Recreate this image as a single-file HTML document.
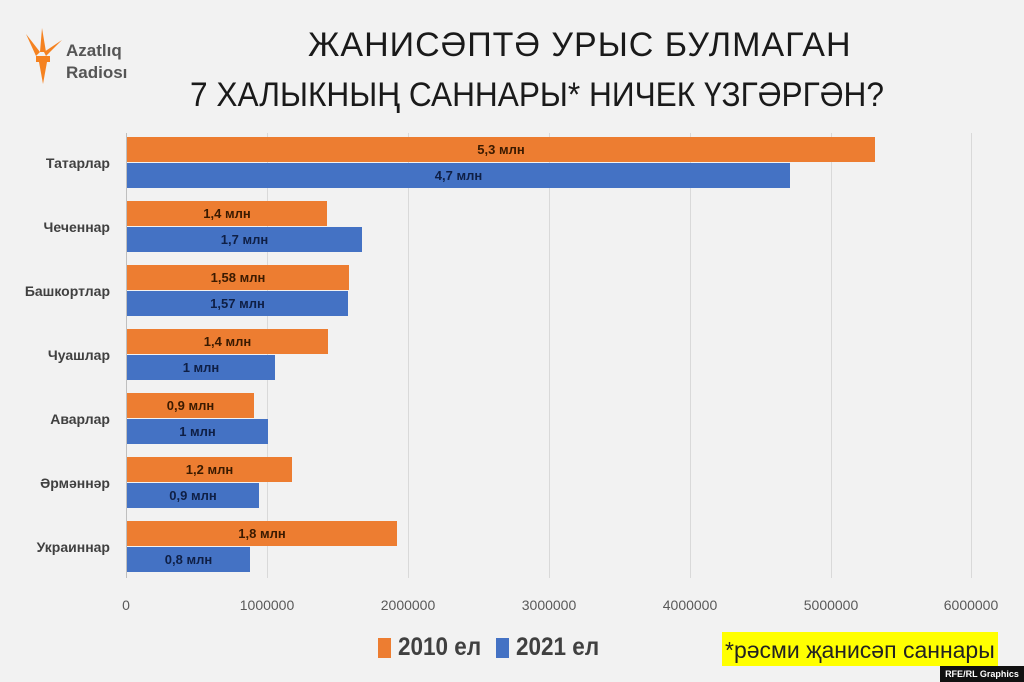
<!DOCTYPE html>
<html><head><meta charset="utf-8"><style>
body{margin:0;width:1024px;height:682px;background:#f2f2f2;font-family:"Liberation Sans","DejaVu Sans",sans-serif;position:relative;overflow:hidden}
.a{position:absolute}
.t{position:absolute;font-size:34px;color:#1a1a1a;white-space:nowrap}
.cat{position:absolute;right:914px;font-size:14px;font-weight:bold;color:#404040;white-space:nowrap}
.bar{position:absolute;left:127px;height:25px;font-size:13px;font-weight:bold;text-align:center;line-height:25px}
.o{background:#ed7d31;color:#3a1a00}
.b{background:#4472c4;color:#0f1f45}
.g{position:absolute;top:133px;height:445px;width:1px;background:#d9d9d9}
.tk{position:absolute;top:597px;font-size:14px;color:#595959;transform:translateX(-50%)}
.lg{position:absolute;top:633px;font-size:25px;font-weight:bold;color:#404040;transform:scaleX(0.9);transform-origin:left;white-space:nowrap}
</style></head><body>
<svg class="a" style="left:22px;top:26px" width="44" height="62" viewBox="0 0 44 62">
<path d="M4 8 L18 26 L14 30 Z" fill="#f58220"/><path d="M20 2 L24 26 L18 26 Z" fill="#f58220"/><path d="M40 14 L24 30 L22 26 Z" fill="#f58220"/>
<rect x="14" y="30" width="14" height="6" fill="#f58220"/><path d="M17 36 L25 36 L21 58 Z" fill="#f58220"/></svg>
<div class="a" style="left:66px;top:40px;font-size:17px;font-weight:bold;color:#555;line-height:22px">Azatlıq<br>Radiosı</div>
<div class="t" style="top:26px;left:308px;letter-spacing:1px">ЖАНИСӘПТӘ УРЫС БУЛМАГАН</div>
<div class="t" style="top:76px;left:190px;transform:scaleX(0.93);transform-origin:left">7 ХАЛЫКНЫҢ САННАРЫ* НИЧЕК ҮЗГӘРГӘН?</div>
<div class="g" style="left:267px"></div><div class="g" style="left:408px"></div><div class="g" style="left:549px"></div><div class="g" style="left:690px"></div><div class="g" style="left:831px"></div><div class="g" style="left:971px"></div>
<div class="a" style="left:126px;top:133px;width:1px;height:445px;background:#bfbfbf"></div>
<div class="cat" style="top:155px">Татарлар</div>
<div class="cat" style="top:219px">Чеченнар</div>
<div class="cat" style="top:283px">Башкортлар</div>
<div class="cat" style="top:347px">Чуашлар</div>
<div class="cat" style="top:411px">Аварлар</div>
<div class="cat" style="top:475px">Әрмәннәр</div>
<div class="cat" style="top:539px">Украиннар</div>
<div class="bar o" style="top:137px;width:748px">5,3 млн</div><div class="bar b" style="top:163px;width:663px">4,7 млн</div>
<div class="bar o" style="top:201px;width:200px">1,4 млн</div><div class="bar b" style="top:227px;width:235px">1,7 млн</div>
<div class="bar o" style="top:265px;width:222px">1,58 млн</div><div class="bar b" style="top:291px;width:221px">1,57 млн</div>
<div class="bar o" style="top:329px;width:201px">1,4 млн</div><div class="bar b" style="top:355px;width:148px">1 млн</div>
<div class="bar o" style="top:393px;width:127px">0,9 млн</div><div class="bar b" style="top:419px;width:141px">1 млн</div>
<div class="bar o" style="top:457px;width:165px">1,2 млн</div><div class="bar b" style="top:483px;width:132px">0,9 млн</div>
<div class="bar o" style="top:521px;width:270px">1,8 млн</div><div class="bar b" style="top:547px;width:123px">0,8 млн</div>
<div class="tk" style="left:126px">0</div><div class="tk" style="left:267px">1000000</div><div class="tk" style="left:408px">2000000</div><div class="tk" style="left:549px">3000000</div><div class="tk" style="left:690px">4000000</div><div class="tk" style="left:831px">5000000</div><div class="tk" style="left:971px">6000000</div>
<div class="a" style="left:378px;top:638px;width:13px;height:20px;background:#ed7d31"></div>
<div class="lg" style="left:398px">2010 ел</div>
<div class="a" style="left:496px;top:638px;width:13px;height:20px;background:#4472c4"></div>
<div class="lg" style="left:516px">2021 ел</div>
<div class="a" style="left:722px;top:632px;height:34px;padding:0 3px;background:#ffff00;font-size:23px;line-height:36px;color:#222;white-space:nowrap">*рәсми җанисәп саннары</div>
<div class="a" style="left:940px;top:666px;width:84px;height:16px;background:#111;color:#fff;font-size:9px;font-weight:bold;line-height:16px;text-align:center">RFE/RL Graphics</div>
</body></html>
